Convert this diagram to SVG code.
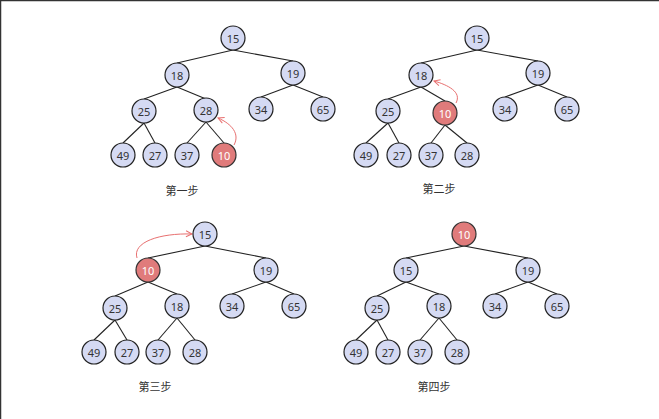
<svg xmlns="http://www.w3.org/2000/svg" width="659" height="419" viewBox="0 0 659 419">
<defs>
<style>
.n circle{fill:#d5daf3;stroke:#222;stroke-width:1.2}
.r circle{fill:#e07b7b;stroke:#333;stroke-width:1.2}
.n text,.r text{font-family:"Noto Sans","DejaVu Sans",sans-serif;font-size:11px;text-anchor:middle;dominant-baseline:central}
.n text{fill:#333}
.r text{fill:#fff}
.e line{stroke:#222;stroke-width:1.1}
.a{fill:none;stroke:#e87070;stroke-width:1;marker-end:url(#ah)}
.lbl{font-family:"Noto Sans CJK SC","Noto Sans",sans-serif;font-size:11px;fill:#333;text-anchor:middle}
</style>
<marker id="ah" viewBox="0 0 8 8" refX="7" refY="4" markerWidth="8" markerHeight="8" markerUnits="userSpaceOnUse" orient="auto">
<path d="M1,1 L7,4 L1,7" fill="none" stroke="#e87070" stroke-width="1"/>
</marker>
</defs>
<rect width="659" height="419" fill="#fff"/>
<line x1="0" y1="0.5" x2="659" y2="0.5" stroke="#333" stroke-width="1.5"/>
<line x1="0.5" y1="0" x2="0.5" y2="419" stroke="#333" stroke-width="1.5"/>

<g id="connectors" class="e">
<!-- panel 1 -->
<line x1="233" y1="50" x2="177" y2="63"/>
<line x1="233" y1="50" x2="293" y2="61"/>
<line x1="177" y1="87" x2="144" y2="99"/>
<line x1="177" y1="87" x2="206" y2="99"/>
<line x1="293" y1="85" x2="261" y2="97"/>
<line x1="293" y1="85" x2="323" y2="97"/>
<line x1="144" y1="123" x2="123" y2="143"/>
<line x1="144" y1="123" x2="155" y2="143"/>
<line x1="206" y1="122" x2="187" y2="143"/>
<line x1="206" y1="122" x2="224" y2="143"/>
<!-- panel 2 -->
<line x1="477" y1="50" x2="421" y2="63"/>
<line x1="477" y1="50" x2="538" y2="61"/>
<line x1="421" y1="87" x2="388" y2="99"/>
<line x1="421" y1="87" x2="445" y2="101"/>
<line x1="538" y1="85" x2="505" y2="97"/>
<line x1="538" y1="85" x2="567" y2="97"/>
<line x1="388" y1="123" x2="366" y2="143"/>
<line x1="388" y1="123" x2="399" y2="143"/>
<line x1="445" y1="125" x2="431" y2="143"/>
<line x1="445" y1="125" x2="467" y2="143"/>
<!-- panel 3 -->
<line x1="205" y1="246" x2="148" y2="258"/>
<line x1="205" y1="246" x2="266" y2="258"/>
<line x1="148" y1="282" x2="115" y2="296"/>
<line x1="148" y1="282" x2="177" y2="294"/>
<line x1="266" y1="282" x2="232" y2="294"/>
<line x1="266" y1="282" x2="294" y2="294"/>
<line x1="115" y1="320" x2="94" y2="340"/>
<line x1="115" y1="320" x2="127" y2="340"/>
<line x1="177" y1="318" x2="158" y2="340"/>
<line x1="177" y1="318" x2="195" y2="340"/>
<!-- panel 4 -->
<line x1="464" y1="246" x2="406" y2="258"/>
<line x1="464" y1="246" x2="528" y2="258"/>
<line x1="406" y1="282" x2="377" y2="296"/>
<line x1="406" y1="282" x2="439" y2="294"/>
<line x1="528" y1="282" x2="495" y2="294"/>
<line x1="528" y1="282" x2="557" y2="294"/>
<line x1="377" y1="320" x2="356" y2="340"/>
<line x1="377" y1="320" x2="388" y2="340"/>
<line x1="439" y1="318" x2="420" y2="340"/>
<line x1="439" y1="318" x2="457" y2="340"/>
<!-- red arrows -->
<path class="a" d="M234,145 C240,134 232,124 218,118"/>
<path class="a" d="M456,103 C462,92 448,85 434,81"/>
<path class="a" d="M137,258 C132,242 160,233 192,234"/>
</g>

<g id="p1-15" class="n"><circle cx="233" cy="38" r="12"/><text x="233" y="38">15</text></g>
<g id="p1-18" class="n"><circle cx="177" cy="75" r="12"/><text x="177" y="75">18</text></g>
<g id="p1-19" class="n"><circle cx="293" cy="73" r="12"/><text x="293" y="73">19</text></g>
<g id="p1-25" class="n"><circle cx="144" cy="111" r="12"/><text x="144" y="111">25</text></g>
<g id="p1-28" class="n"><circle cx="206" cy="110" r="12"/><text x="206" y="110">28</text></g>
<g id="p1-34" class="n"><circle cx="261" cy="109" r="12"/><text x="261" y="109">34</text></g>
<g id="p1-65" class="n"><circle cx="323" cy="109" r="12"/><text x="323" y="109">65</text></g>
<g id="p1-49" class="n"><circle cx="123" cy="155" r="12"/><text x="123" y="155">49</text></g>
<g id="p1-27" class="n"><circle cx="155" cy="155" r="12"/><text x="155" y="155">27</text></g>
<g id="p1-37" class="n"><circle cx="187" cy="155" r="12"/><text x="187" y="155">37</text></g>
<g id="p1-10" class="r"><circle cx="224" cy="155" r="12"/><text x="224" y="155">10</text></g>
<text class="lbl" x="182" y="195">第一步</text>

<g id="p2-15" class="n"><circle cx="477" cy="38" r="12"/><text x="477" y="38">15</text></g>
<g id="p2-18" class="n"><circle cx="421" cy="75" r="12"/><text x="421" y="75">18</text></g>
<g id="p2-19" class="n"><circle cx="538" cy="73" r="12"/><text x="538" y="73">19</text></g>
<g id="p2-25" class="n"><circle cx="388" cy="111" r="12"/><text x="388" y="111">25</text></g>
<g id="p2-10" class="r"><circle cx="445" cy="113" r="12"/><text x="445" y="113">10</text></g>
<g id="p2-34" class="n"><circle cx="505" cy="109" r="12"/><text x="505" y="109">34</text></g>
<g id="p2-65" class="n"><circle cx="567" cy="109" r="12"/><text x="567" y="109">65</text></g>
<g id="p2-49" class="n"><circle cx="366" cy="155" r="12"/><text x="366" y="155">49</text></g>
<g id="p2-27" class="n"><circle cx="399" cy="155" r="12"/><text x="399" y="155">27</text></g>
<g id="p2-37" class="n"><circle cx="431" cy="155" r="12"/><text x="431" y="155">37</text></g>
<g id="p2-28" class="n"><circle cx="467" cy="155" r="12"/><text x="467" y="155">28</text></g>
<text class="lbl" x="439" y="193">第二步</text>

<g id="p3-15" class="n"><circle cx="205" cy="234" r="12"/><text x="205" y="234">15</text></g>
<g id="p3-10" class="r"><circle cx="148" cy="270" r="12"/><text x="148" y="270">10</text></g>
<g id="p3-19" class="n"><circle cx="266" cy="270" r="12"/><text x="266" y="270">19</text></g>
<g id="p3-25" class="n"><circle cx="115" cy="308" r="12"/><text x="115" y="308">25</text></g>
<g id="p3-18" class="n"><circle cx="177" cy="306" r="12"/><text x="177" y="306">18</text></g>
<g id="p3-34" class="n"><circle cx="232" cy="306" r="12"/><text x="232" y="306">34</text></g>
<g id="p3-65" class="n"><circle cx="294" cy="306" r="12"/><text x="294" y="306">65</text></g>
<g id="p3-49" class="n"><circle cx="94" cy="352" r="12"/><text x="94" y="352">49</text></g>
<g id="p3-27" class="n"><circle cx="127" cy="352" r="12"/><text x="127" y="352">27</text></g>
<g id="p3-37" class="n"><circle cx="158" cy="352" r="12"/><text x="158" y="352">37</text></g>
<g id="p3-28" class="n"><circle cx="195" cy="352" r="12"/><text x="195" y="352">28</text></g>
<text class="lbl" x="155" y="391">第三步</text>

<g id="p4-10" class="r"><circle cx="464" cy="234" r="12"/><text x="464" y="234">10</text></g>
<g id="p4-15" class="n"><circle cx="406" cy="270" r="12"/><text x="406" y="270">15</text></g>
<g id="p4-19" class="n"><circle cx="528" cy="270" r="12"/><text x="528" y="270">19</text></g>
<g id="p4-25" class="n"><circle cx="377" cy="308" r="12"/><text x="377" y="308">25</text></g>
<g id="p4-18" class="n"><circle cx="439" cy="306" r="12"/><text x="439" y="306">18</text></g>
<g id="p4-34" class="n"><circle cx="495" cy="306" r="12"/><text x="495" y="306">34</text></g>
<g id="p4-65" class="n"><circle cx="557" cy="306" r="12"/><text x="557" y="306">65</text></g>
<g id="p4-49" class="n"><circle cx="356" cy="352" r="12"/><text x="356" y="352">49</text></g>
<g id="p4-27" class="n"><circle cx="388" cy="352" r="12"/><text x="388" y="352">27</text></g>
<g id="p4-37" class="n"><circle cx="420" cy="352" r="12"/><text x="420" y="352">37</text></g>
<g id="p4-28" class="n"><circle cx="457" cy="352" r="12"/><text x="457" y="352">28</text></g>
<text class="lbl" x="434" y="391">第四步</text>
</svg>
